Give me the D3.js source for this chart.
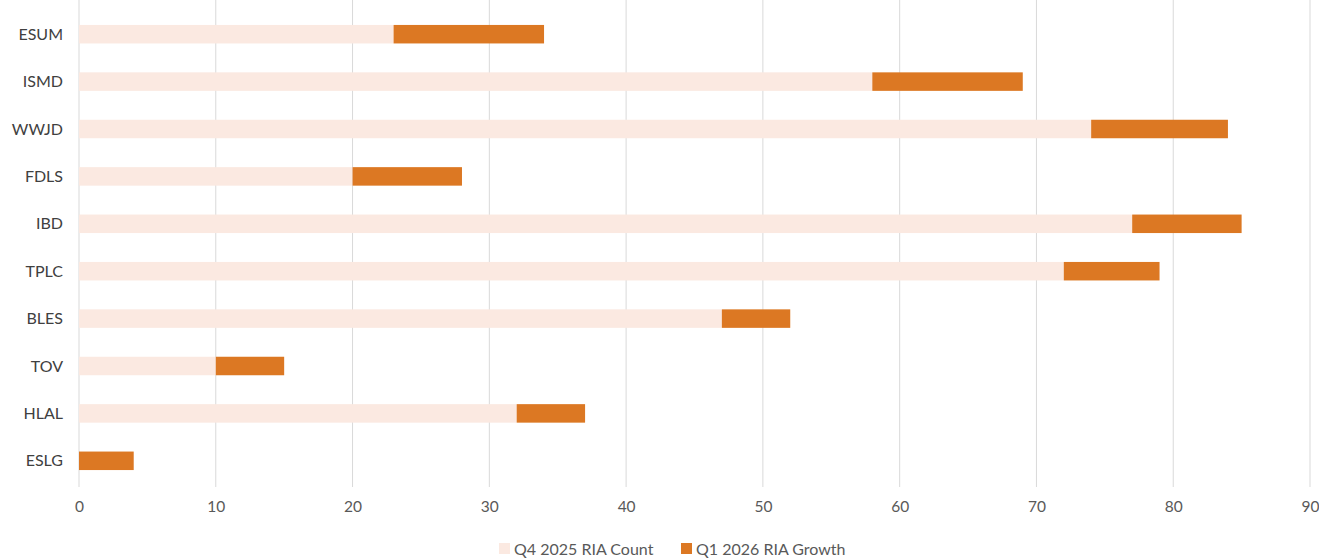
<!DOCTYPE html>
<html><head><meta charset="utf-8">
<script src="https://cdn.jsdelivr.net/npm/d3@7"></script>
<style>body{margin:0;background:#fff;}svg{display:block;font-family:Lato,"Open Sans",sans-serif;}</style>
</head><body><svg id="c" width="1319" height="558"></svg>
<script>
const categories = ["ESUM","ISMD","WWJD","FDLS","IBD","TPLC","BLES","TOV","HLAL","ESLG"];
const q4Count = [23,58,74,20,77,72,47,10,32,0];
const q1Growth = [11,11,10,8,8,7,5,5,5,4];
const seriesNames = ["Q4 2025 RIA Count","Q1 2026 RIA Growth"];
const xTicks = [0,10,20,30,40,50,60,70,80,90];
const colors = ["#fbe9e1","#dc7823"];

const svg = d3.select("#c");
const x = d3.scaleLinear().domain([0,90]).range([79,1310]);
const y = d3.scaleBand().domain(categories).range([10.5,484.5]).paddingInner(0.6).paddingOuter(0.3);

svg.append("g").selectAll("line").data(xTicks).join("line")
  .attr("x1",d=>x(d)).attr("x2",d=>x(d)).attr("y1",0).attr("y2",487)
  .attr("stroke","#d9d9d9").attr("stroke-width",1);

const stacked = d3.stack().keys([0,1]).value((d,k)=>k===0?d.a:d.b)(categories.map((c,i)=>({c,a:q4Count[i],b:q1Growth[i]})));
svg.append("g").selectAll("g").data(stacked).join("g").attr("fill",(d,i)=>colors[i])
  .selectAll("rect").data(d=>d).join("rect")
  .attr("x",d=>x(d[0])).attr("width",d=>x(d[1])-x(d[0]))
  .attr("y",d=>y(d.data.c)+(y.bandwidth()-18.5)/2).attr("height",18.5);

svg.append("g").selectAll("text").data(categories).join("text")
  .attr("x",63).attr("y",d=>y(d)+y.bandwidth()/2).attr("dy","0.35em")
  .attr("text-anchor","end").attr("font-size",16).attr("fill","#404040").text(d=>d);

const xa = d3.axisBottom(x).tickValues(xTicks).tickSize(0).tickPadding(0);
const gx = svg.append("g").attr("transform","translate(0,507)").call(xa);
gx.select(".domain").remove();
gx.selectAll("text").attr("font-size",15.5).attr("fill","#595959").attr("font-family","Lato,sans-serif").attr("dy","0.35em").attr("y",0);

const leg = svg.append("g");
const lx = [499,681];
seriesNames.forEach((n,i)=>{
  leg.append("rect").attr("x",lx[i]).attr("y",543).attr("width",11).attr("height",11).attr("fill",colors[i]);
  leg.append("text").attr("x",lx[i]+15).attr("y",549).attr("dy","0.35em").attr("font-size",16).attr("fill","#595959").text(n);
});
</script></body></html>
